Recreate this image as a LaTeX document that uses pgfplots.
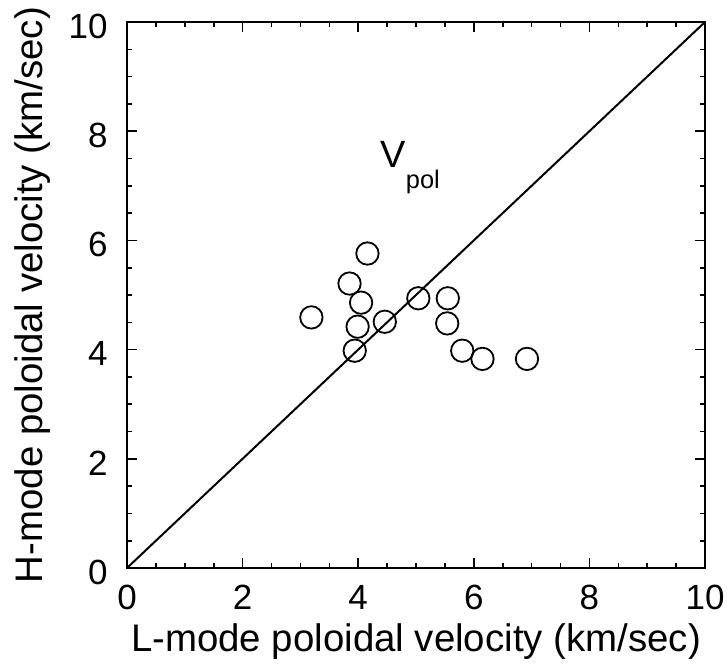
\documentclass[border=0pt]{standalone}
\usepackage{fontspec}
\setmainfont{Liberation Sans}
\usepackage{pgfplots}
\pgfplotsset{compat=1.18}
\begin{document}
\begin{tikzpicture}
\useasboundingbox (-63.5pt,-48.5pt) rectangle (300pt,284pt);
\begin{axis}[
    at={(0,0)}, anchor=south west,
    scale only axis,
    width=289pt, height=273pt,
    xmin=0, xmax=10, ymin=0, ymax=10,
    xtick={0,2,...,10}, ytick={0,2,...,10},
    minor x tick num=3, minor y tick num=3,
    tick align=inside,
    major tick length=5pt, minor tick length=2.5pt,
    tick style={black, line width=0.8pt},
    axis line style={line width=1pt},
    /pgf/number format/assume math mode=true,
    ticklabel style={font=\fontsize{17.5}{20}\selectfont, inner sep=0pt},
    xticklabel style={anchor=north, yshift=-8.5pt},
    yticklabel style={anchor=east, xshift=-9.5pt, yshift=-2pt},
    label style={font=\fontsize{19.2}{22}\selectfont},
    xlabel={L-mode poloidal velocity (km/sec)},
    ylabel={H-mode poloidal velocity (km/sec)},
    xlabel style={at={(axis description cs:0.5,0)}, anchor=base, yshift=-41.5pt},
    ylabel style={at={(axis description cs:0,0.5)}, anchor=center, yshift=47pt},
]
\addplot[black, line width=1pt] coordinates {(0,0) (10,10)};
\addplot[only marks, mark=o, mark size=5.6pt, mark options={line width=0.9pt, fill=white}] coordinates {
(3.19,4.59) (4.16,5.76) (3.85,5.21) (4.05,4.86) (3.99,4.42) (4.46,4.51)
(3.94,3.98) (5.04,4.94) (5.55,4.94) (5.54,4.48) (5.80,3.98) (6.15,3.83) (6.92,3.83)
};
\node[anchor=base west, inner sep=0pt, font=\fontsize{19}{22}\selectfont] at (axis cs:4.38,7.34) {V\raisebox{-10.5pt}{\fontsize{12.7}{14}\selectfont pol}};
\end{axis}
\end{tikzpicture}
\end{document}
